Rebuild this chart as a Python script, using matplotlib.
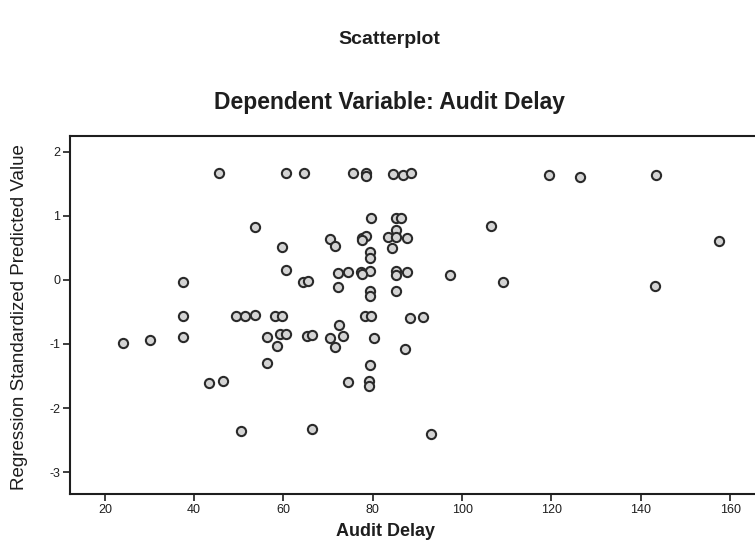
import matplotlib
matplotlib.use("Agg")
import matplotlib.pyplot as plt

# Audit Delay (x) vs Regression Standardized Predicted Value (y)
audit_delay = [
    45.6, 60.5, 64.6, 75.6, 78.5, 78.5, 84.6, 86.7, 88.5, 119.4, 126.4, 143.3,
    79.5, 85.3, 86.4, 53.6, 106.4, 85.3, 70.4, 71.5, 77.5, 78.5, 77.5, 83.4,
    85.3, 87.6, 84.4, 59.6, 79.4, 79.4, 157.4,
    60.5, 72.3, 74.5, 77.3, 79.3, 77.5, 85.3, 87.6, 85.3, 97.3, 37.4, 64.3,
    65.5, 109.2, 143.2, 72.3, 79.4, 79.4, 85.3,
    37.4, 49.3, 51.4, 53.6, 58.1, 59.6, 78.2, 79.5, 88.3, 91.3, 72.5,
    24.1, 30.1, 37.4, 56.4, 58.5, 59.2, 60.5, 65.3, 66.3, 70.4, 73.4, 71.5,
    80.3, 87.2, 56.4, 79.4, 43.4, 46.4, 74.4, 79.2, 79.2, 50.4, 66.3, 93.0,
]
predicted = [
    1.66, 1.67, 1.66, 1.67, 1.67, 1.62, 1.65, 1.64, 1.66, 1.63, 1.61, 1.63,
    0.96, 0.96, 0.96, 0.83, 0.84, 0.78, 0.64, 0.52, 0.65, 0.68, 0.62, 0.67,
    0.67, 0.65, 0.50, 0.51, 0.43, 0.34, 0.60,
    0.15, 0.11, 0.12, 0.12, 0.14, 0.09, 0.14, 0.12, 0.08, 0.07, -0.04, -0.03,
    -0.02, -0.04, -0.09, -0.11, -0.17, -0.25, -0.17,
    -0.57, -0.57, -0.57, -0.55, -0.57, -0.57, -0.57, -0.56, -0.59, -0.58, -0.70,
    -0.99, -0.94, -0.89, -0.89, -1.03, -0.85, -0.85, -0.87, -0.86, -0.91, -0.88, -1.04,
    -0.91, -1.08, -1.29, -1.33, -1.61, -1.57, -1.59, -1.58, -1.65, -2.36, -2.33, -2.41,
]
x_ticks = [20, 40, 60, 80, 100, 120, 140, 160]
y_ticks = [-3, -2, -1, 0, 1, 2]

plt.rcParams["font.family"] = ["Liberation Sans", "DejaVu Sans"]
plt.rcParams["axes.unicode_minus"] = False
INK = "#1e1e1e"

fig = plt.figure(figsize=(7.55, 5.48), dpi=100)
ax = fig.add_axes([0.0927, 0.0985, 0.914, 0.653])

ax.scatter(audit_delay, predicted, s=44, facecolor="#d4d4d4", edgecolor="#2a2a2a",
           linewidth=1.5, zorder=3, clip_on=False)

ax.set_xlim(12.2, 166.7)
ax.set_ylim(-3.34, 2.24)
ax.set_xticks(x_ticks)
ax.set_yticks(y_ticks)
ax.tick_params(direction="out", length=5, width=1.2, colors=INK, labelsize=9,
               pad=2)
for sp in ax.spines.values():
    sp.set_linewidth(1.5)
    sp.set_color(INK)

fig.text(385 / 755, 1 - 531 / 548, "Audit Delay", ha="center", va="center",
         fontsize=13, fontweight="bold", color=INK)
fig.text(0.026, 1 - 317 / 548, "Regression Standardized Predicted Value",
         rotation=90, ha="center", va="center", fontsize=13.5, color=INK)

fig.text(389 / 755, 1 - 40 / 548, "Scatterplot", ha="center", va="center",
         fontsize=14, fontweight="bold", color=INK)
fig.text(389 / 755, 1 - 103 / 548, "Dependent Variable: Audit Delay",
         ha="center", va="center", fontsize=16.5, fontweight="bold", color=INK)

fig.savefig("out.png", dpi=100)
